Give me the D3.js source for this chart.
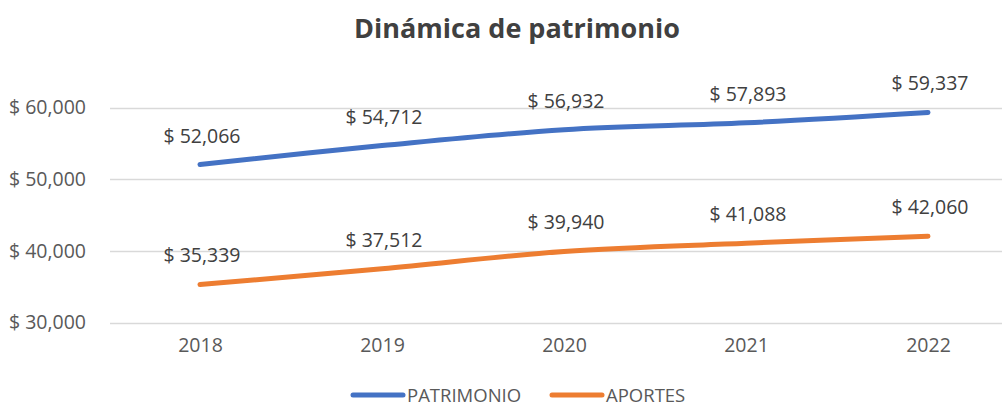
<!DOCTYPE html>
<html>
<head>
<meta charset="utf-8">
<script src="https://cdn.jsdelivr.net/npm/d3@7"></script>
<style>
  body { margin: 0; background: #fff; }
  text { font-family: "Open Sans", "Noto Sans", sans-serif; }
</style>
</head>
<body>
<svg width="1002" height="406"></svg>
<script>
// data
var years = ["2018", "2019", "2020", "2021", "2022"];
var patrimonio = [52066, 54712, 56932, 57893, 59337];
var aportes = [35339, 37512, 39940, 41088, 42060];
var yTicks = [30000, 40000, 50000, 60000];

var series = [
  {name: "PATRIMONIO", values: patrimonio, color: "#4472C4"},
  {name: "APORTES", values: aportes, color: "#ED7D31"}
];

var svg = d3.select("svg");

var x = d3.scalePoint().domain(years).range([109, 1019]).padding(0.5);
var y = d3.scaleLinear().domain([30000, 60000]).range([322.7, 107.7]);

var money = function(v){ return "$ " + d3.format(",")(v); };

// title
svg.append("text")
  .attr("x", 517).attr("y", 38)
  .attr("text-anchor", "middle")
  .attr("font-size", 27).attr("font-weight", "bold")
  .attr("fill", "#404040")
  .text("Dinámica de patrimonio");

// gridlines
svg.selectAll(".grid").data(yTicks).enter()
  .append("line")
    .attr("class", "grid")
    .attr("x1", 110).attr("x2", 1002)
    .attr("y1", function(d){ return Math.round(y(d)) + 0.5; })
    .attr("y2", function(d){ return Math.round(y(d)) + 0.5; })
    .attr("stroke", "#d9d9d9").attr("stroke-width", 1.5);

// y labels
var yAxis = svg.append("g").attr("transform", "translate(86,0)")
  .call(d3.axisLeft(y).tickValues(yTicks).tickFormat(money).tickSize(0).tickPadding(0));
yAxis.select(".domain").remove();
yAxis.selectAll("text")
  .attr("font-family", "'Open Sans', sans-serif")
  .attr("font-size", 19.5).attr("fill", "#595959");

// x labels
var xAxis = svg.append("g").attr("transform", "translate(0,338)")
  .call(d3.axisBottom(x).tickSize(0).tickPadding(0));
xAxis.select(".domain").remove();
xAxis.selectAll("text")
  .attr("font-family", "'Open Sans', sans-serif")
  .attr("font-size", 19.5).attr("fill", "#595959");

var line = d3.line()
  .x(function(d, i){ return x(years[i]); })
  .y(function(d){ return y(d); })
  .curve(d3.curveCatmullRom);

series.forEach(function(s){
  svg.append("path")
    .attr("d", line(s.values))
    .attr("fill", "none")
    .attr("stroke", s.color)
    .attr("stroke-width", 5)
    .attr("stroke-linecap", "round");

  svg.selectAll(null).data(s.values).enter()
    .append("text")
      .attr("x", function(d, i){ return x(years[i]) + 2; })
      .attr("y", function(d){ return y(d) - 22; })
      .attr("text-anchor", "middle")
      .attr("font-size", 19.5).attr("fill", "#404040")
      .text(money);
});

// legend
var legend = svg.selectAll(".legend").data(series).enter()
  .append("g")
    .attr("class", "legend")
    .attr("transform", function(d, i){ return "translate(" + [353, 552][i] + ",395)"; });
legend.append("line")
  .attr("x1", 0).attr("x2", 50).attr("y1", 0).attr("y2", 0)
  .attr("stroke", function(d){ return d.color; })
  .attr("stroke-width", 5).attr("stroke-linecap", "round");
legend.append("text")
  .attr("x", 54).attr("y", 6.5)
  .attr("font-size", 18.5).attr("fill", "#595959")
  .text(function(d){ return d.name; });
</script>
</body>
</html>
